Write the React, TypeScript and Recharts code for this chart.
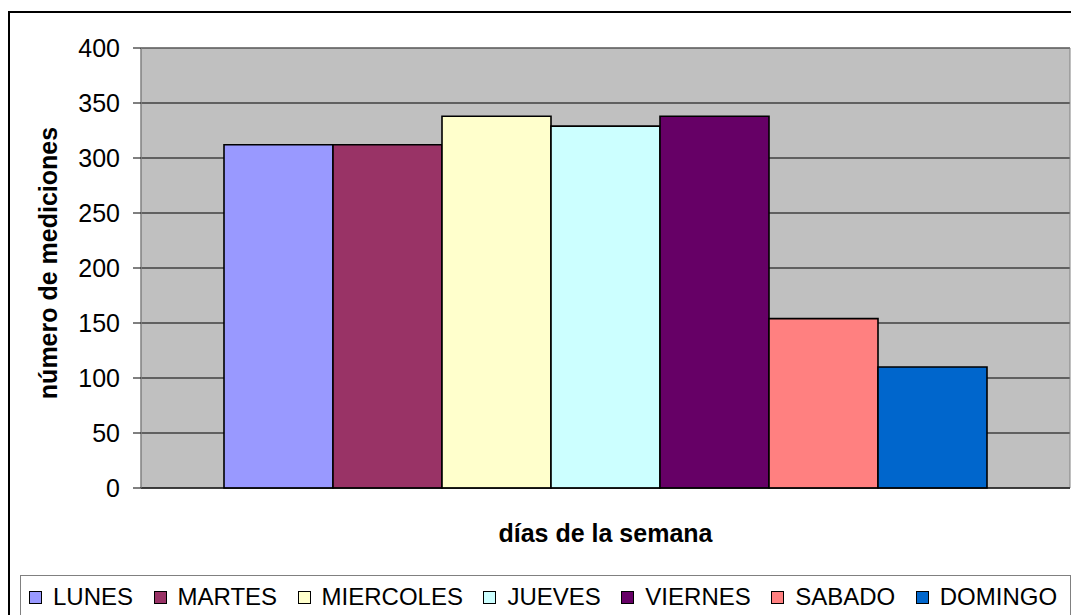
import React from "react";
import { BarChart, Bar, XAxis, YAxis, CartesianGrid, ReferenceArea, ReferenceLine } from "recharts";

const seriesNames = ["LUNES", "MARTES", "MIERCOLES", "JUEVES", "VIERNES", "SABADO", "DOMINGO"];
const seriesValues = [312, 312, 338, 329, 338, 154, 110];
const seriesColors = ["#9999FF", "#993366", "#FFFFCC", "#CCFFFF", "#660066", "#FF8080", "#0066CC"];
const yTicks = [0, 50, 100, 150, 200, 250, 300, 350, 400];
const category = ["semana"];

const row: Record<string, string | number> = { name: category[0] };
seriesNames.forEach((n, i) => {
  row[n] = seriesValues[i];
});
const data = [row];

const FONT = '"Liberation Sans", Arial, sans-serif';

export default function App() {
  return (
    <div
      style={{
        position: "absolute",
        left: 0,
        top: 0,
        width: 1071,
        height: 615,
        overflow: "hidden",
        background: "#fff",
        fontFamily: FONT,
      }}
    >
      <div
        style={{
          position: "absolute",
          left: 8,
          top: 11,
          width: 1200,
          height: 800,
          border: "2px solid #000",
          boxSizing: "border-box",
        }}
      />
      <BarChart
        width={1071}
        height={615}
        data={data}
        margin={{ top: 48, right: 1, bottom: 127, left: 0 }}
        barGap={0}
        barCategoryGap={83}
        style={{ position: "absolute", left: 0, top: 0 }}
      >
        <CartesianGrid vertical={false} stroke="#000" fill="#C0C0C0" fillOpacity={1} />
        <XAxis dataKey="name" hide />
        <YAxis
          domain={[0, 400]}
          ticks={yTicks}
          interval={0}
          width={141}
          tickSize={8}
          tickMargin={13}
          axisLine={{ stroke: "#808080" }}
          tickLine={{ stroke: "#000" }}
          tick={{ fill: "#000", fontSize: 25, fontFamily: FONT }}
        />
        <ReferenceArea y1={0} y2={400} fill="none" stroke="#808080" strokeWidth={1} />
        {seriesNames.map((n, i) => (
          <Bar
            key={n}
            dataKey={n}
            fill={seriesColors[i]}
            stroke="#000"
            strokeWidth={1.6}
            isAnimationActive={false}
          />
        ))}
        <ReferenceLine y={0} stroke="#000" strokeWidth={1} />
      </BarChart>
      <div
        style={{
          position: "absolute",
          left: 48 - 200,
          top: 263 - 15,
          width: 400,
          height: 30,
          lineHeight: "30px",
          textAlign: "center",
          transform: "rotate(-90deg)",
          fontWeight: "bold",
          fontSize: 25,
          color: "#000",
        }}
      >
        número de mediciones
      </div>
      <div
        style={{
          position: "absolute",
          left: 141,
          top: 519,
          width: 929,
          height: 28,
          lineHeight: "28px",
          textAlign: "center",
          fontWeight: "bold",
          fontSize: 25,
          color: "#000",
        }}
      >
        días de la semana
      </div>
      <div
        style={{
          position: "absolute",
          left: 20,
          top: 575,
          width: 1051,
          height: 100,
          border: "1px solid #808080",
          boxSizing: "border-box",
        }}
      >
        <div
          style={{
            display: "flex",
            alignItems: "center",
            position: "absolute",
            left: 8,
            top: 8,
            height: 26,
            whiteSpace: "nowrap",
          }}
        >
          {seriesNames.map((n, i) => (
            <div key={n} style={{ display: "flex", alignItems: "center", marginRight: 20.5 }}>
              <span
                style={{
                  display: "inline-block",
                  width: 13,
                  height: 13,
                  boxSizing: "border-box",
                  border: "1px solid #000",
                  background: seriesColors[i],
                  marginRight: 11,
                }}
              />
              <span style={{ fontSize: 24, lineHeight: "26px", color: "#000" }}>{n}</span>
            </div>
          ))}
        </div>
      </div>
    </div>
  );
}
